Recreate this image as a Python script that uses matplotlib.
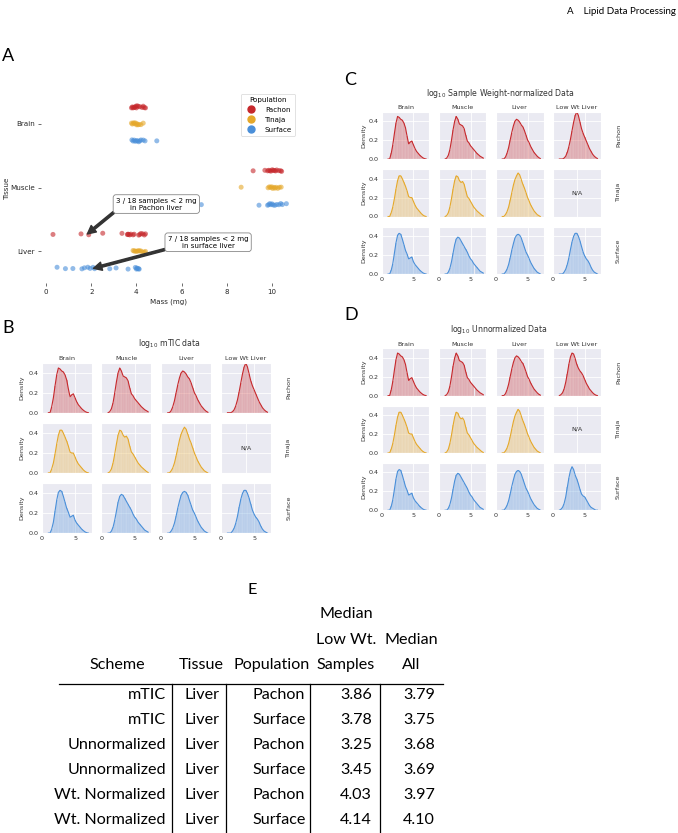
import numpy as np
import pandas as pd
import matplotlib
matplotlib.use("Agg")
import matplotlib.pyplot as plt
from matplotlib.lines import Line2D
from matplotlib import font_manager
import seaborn as sns

W, H = 678, 833

# ---- panel A: sample masses (mg) ----
tissues = ["Brain", "Muscle", "Liver"]
populations = ["Pachon", "Tinaja", "Surface"]
pop_colors = ["#c6282c", "#e5a82a", "#4a8fd9"]

brain_pachon = [3.78, 3.82, 3.85, 3.9, 3.93, 3.97, 4.0, 4.03, 4.08, 4.15, 4.25, 4.3, 4.35, 4.4]
brain_tinaja = [3.78, 3.82, 3.87, 3.9, 3.95, 4.0, 4.02, 4.07, 4.12, 4.2, 4.3]
brain_surface = [3.8, 3.85, 3.9, 3.95, 4.0, 4.05, 4.1, 4.15, 4.2, 4.3, 4.38, 4.9]
muscle_pachon = [9.16, 9.68, 9.8, 9.85, 9.9, 9.95, 10.0, 10.05, 10.1, 10.15, 10.2, 10.3, 10.38, 10.42]
muscle_tinaja = [8.63, 9.82, 9.88, 9.93, 9.98, 10.02, 10.08, 10.12, 10.18, 10.25, 10.32, 10.4]
muscle_surface = [6.87, 9.42, 9.8, 9.85, 9.9, 9.95, 10.0, 10.05, 10.12, 10.2, 10.3, 10.38, 10.45, 10.63]
liver_pachon = [0.31, 1.55, 1.89, 2.51, 3.36, 3.6, 3.62, 3.65, 3.7, 3.75, 3.85, 3.9, 4.1, 4.15, 4.2, 4.28, 4.35, 4.4]
liver_tinaja = [3.85, 3.9, 3.95, 4.0, 4.05, 4.1, 4.15, 4.2, 4.28, 4.35, 4.4]
liver_surface = [0.49, 0.86, 1.19, 1.59, 1.7, 1.85, 1.95, 2.08, 2.15, 2.82, 3.1, 3.63, 3.95, 4.0, 4.02, 4.05, 4.1, 4.12]

# ---- panels B-D: log10 intensity densities, bins of 0.25 from 1.0 to 7.0 ----
bins = np.arange(1.0, 7.01, 0.25)
col_titles = ["Brain", "Muscle", "Liver", "Low Wt Liver"]

brain_p = [0, 0, 0.06, 0.15, 0.27, 0.38, 0.45, 0.44, 0.42, 0.41, 0.38, 0.33, 0.24, 0.16, 0.18, 0.19, 0.15, 0.11, 0.08, 0.06, 0.04, 0.025, 0.012, 0.004, 0]
muscle_p = [0, 0.01, 0.04, 0.1, 0.2, 0.31, 0.4, 0.45, 0.42, 0.37, 0.36, 0.35, 0.32, 0.25, 0.19, 0.17, 0.14, 0.12, 0.1, 0.08, 0.06, 0.045, 0.03, 0.02, 0.01]
liver_p = [0, 0, 0.02, 0.06, 0.12, 0.2, 0.28, 0.35, 0.4, 0.42, 0.41, 0.39, 0.36, 0.34, 0.3, 0.25, 0.2, 0.17, 0.13, 0.1, 0.07, 0.05, 0.03, 0.015, 0.005]
lowwt_p = [0, 0, 0, 0.01, 0.03, 0.07, 0.13, 0.21, 0.3, 0.39, 0.46, 0.5, 0.46, 0.39, 0.32, 0.27, 0.23, 0.19, 0.15, 0.11, 0.08, 0.05, 0.03, 0.015, 0.005]
brain_t = [0, 0, 0.04, 0.1, 0.19, 0.29, 0.38, 0.43, 0.43, 0.4, 0.36, 0.32, 0.27, 0.21, 0.2, 0.2, 0.16, 0.12, 0.09, 0.07, 0.05, 0.03, 0.015, 0.005, 0]
muscle_t = [0, 0.01, 0.04, 0.1, 0.19, 0.29, 0.38, 0.43, 0.42, 0.38, 0.36, 0.37, 0.34, 0.27, 0.21, 0.19, 0.16, 0.13, 0.1, 0.08, 0.06, 0.045, 0.03, 0.015, 0.005]
liver_t = [0, 0, 0.02, 0.05, 0.1, 0.17, 0.25, 0.33, 0.39, 0.43, 0.46, 0.44, 0.39, 0.34, 0.3, 0.25, 0.2, 0.16, 0.12, 0.09, 0.06, 0.04, 0.02, 0.01, 0]
brain_s = [0, 0, 0.04, 0.11, 0.22, 0.33, 0.41, 0.43, 0.42, 0.37, 0.31, 0.25, 0.21, 0.16, 0.17, 0.18, 0.13, 0.1, 0.08, 0.06, 0.04, 0.025, 0.012, 0.004, 0]
muscle_s = [0, 0, 0.02, 0.06, 0.13, 0.22, 0.31, 0.37, 0.39, 0.38, 0.35, 0.32, 0.29, 0.26, 0.23, 0.19, 0.16, 0.14, 0.11, 0.09, 0.07, 0.05, 0.03, 0.02, 0.01]
liver_s = [0, 0, 0.02, 0.05, 0.1, 0.17, 0.25, 0.32, 0.38, 0.41, 0.42, 0.41, 0.38, 0.33, 0.28, 0.23, 0.2, 0.16, 0.12, 0.09, 0.06, 0.04, 0.02, 0.01, 0]
lowwt_s = [0, 0, 0, 0.02, 0.05, 0.1, 0.17, 0.26, 0.34, 0.4, 0.43, 0.43, 0.4, 0.35, 0.29, 0.23, 0.19, 0.16, 0.14, 0.11, 0.07, 0.04, 0.02, 0.01, 0]
# unnormalized low weight livers peak earlier
unnorm_lowwt_p = [0, 0.01, 0.03, 0.07, 0.14, 0.23, 0.33, 0.41, 0.45, 0.44, 0.39, 0.33, 0.29, 0.26, 0.24, 0.21, 0.17, 0.13, 0.1, 0.07, 0.05, 0.03, 0.015, 0.005, 0]
unnorm_lowwt_s = [0, 0.01, 0.03, 0.07, 0.14, 0.24, 0.34, 0.42, 0.46, 0.43, 0.37, 0.33, 0.28, 0.22, 0.17, 0.15, 0.14, 0.11, 0.08, 0.05, 0.03, 0.02, 0.01, 0, 0]

# ---- panel E table ----
tab_scheme = ["mTIC", "mTIC", "Unnormalized", "Unnormalized", "Wt. Normalized", "Wt. Normalized"]
tab_tissue = ["Liver"] * 6
tab_pop = ["Pachon", "Surface", "Pachon", "Surface", "Pachon", "Surface"]
tab_lowwt = [3.86, 3.78, 3.25, 3.45, 4.03, 4.14]
tab_all = [3.79, 3.75, 3.68, 3.69, 3.97, 4.10]


def px(x, y, w, h):
    return [x / W, 1 - (y + h) / H, w / W, h / H]


def ftext(x, y, s, **kw):
    fig.text(x / W, 1 - y / H, s, **kw)


# the table font in the original is a narrow humanist face
installed = {f.name for f in font_manager.fontManager.ttflist}
if "Liberation Sans Narrow" in installed:
    table_font, table_size = "Liberation Sans Narrow", 13
else:
    table_font, table_size = "Lato", 11.6

fig = plt.figure(figsize=(W / 100, H / 100), dpi=100)
plt.rcParams["font.family"] = ["DejaVu Sans"]
LETTER = dict(family="Lato", fontsize=13, va="center", ha="left")

ftext(676, 12, "A    Lipid Data Processing", family="Lato", fontsize=7, ha="right", va="center")

# ---------------- A ----------------
rows = []
for tis, pop, vals in [("Brain", "Pachon", brain_pachon), ("Brain", "Tinaja", brain_tinaja),
                       ("Brain", "Surface", brain_surface), ("Muscle", "Pachon", muscle_pachon),
                       ("Muscle", "Tinaja", muscle_tinaja), ("Muscle", "Surface", muscle_surface),
                       ("Liver", "Pachon", liver_pachon), ("Liver", "Tinaja", liver_tinaja),
                       ("Liver", "Surface", liver_surface)]:
    for v in vals:
        rows.append((tis, pop, v))
df = pd.DataFrame(rows, columns=["Tissue", "Population", "Mass (mg)"])

with sns.axes_style("ticks"):
    axA = fig.add_axes(px(41, 92, 256, 191))
np.random.seed(4)
sns.stripplot(data=df, x="Mass (mg)", y="Tissue", hue="Population", order=tissues,
              hue_order=populations, palette=pop_colors, dodge=True, jitter=0.05,
              size=3.6, alpha=0.6, linewidth=0, ax=axA, legend=False)
axA.set_xlim(-0.22, 11.1)
axA.set_ylim(2.5, -0.5)
sns.despine(ax=axA, left=True, bottom=True)
axA.tick_params(length=2.5, width=0.6, labelsize=5.1, pad=2, color="#555555", labelcolor="#262626")
axA.set_xticks([0, 2, 4, 6, 8, 10])
axA.set_xlabel("Mass (mg)", fontsize=5.1, labelpad=2, color="#262626")
axA.set_ylabel("Tissue", fontsize=5.1, color="#262626")
axA.yaxis.set_label_coords(-0.123, 0.5)
handles = [Line2D([], [], marker="o", ls="", color=c, markersize=5) for c in pop_colors]
leg = axA.legend(handles, populations, title="Population", loc="upper right", fontsize=5.1,
                 title_fontsize=5.1, frameon=True, borderaxespad=0.25, handletextpad=0.9,
                 labelspacing=0.55, borderpad=0.45)
leg.get_frame().set_linewidth(0.5)
box = dict(boxstyle="round,pad=0.4", fc="white", ec="#888888", lw=0.6)
arrow = dict(facecolor="#333333", edgecolor="#333333", width=1.6, headwidth=6, headlength=6, shrink=0.0)
axA.annotate("3 / 18 samples < 2 mg\nin Pachon liver", xy=(1.83, 1.73), xytext=(4.88, 1.26),
             ha="center", va="center", fontsize=5.1, bbox=box, arrowprops=arrow)
axA.annotate("7 / 18 samples < 2 mg\nin surface liver", xy=(2.1, 2.27), xytext=(7.17, 1.86),
             ha="center", va="center", fontsize=5.1, bbox=box, arrowprops=arrow)
ftext(2, 56, "A", **LETTER)


# ---------------- B, C, D grids ----------------
def draw_grid(left, top, w, h, dx, dy, title, title_x, title_y, ylab_x, profiles):
    for r, pop in enumerate(populations):
        for c, tis in enumerate(col_titles):
            with sns.axes_style("darkgrid"):
                ax = fig.add_axes(px(left + c * dx, top + r * dy, w, h))
            ax.grid(color="white", lw=0.6)
            ax.tick_params(length=0, labelsize=4.6, pad=2, labelcolor="#333333")
            ax.set_ylim(0, 0.5)
            ax.set_yticks([0.0, 0.2, 0.4])
            dens = profiles[r][c]
            if dens is None:
                ax.set_xlim(0, 1)
                ax.set_xticks([0.5])
                ax.text(0.5, 0.25, "N/A", ha="center", va="center", fontsize=4.6, color="#333333")
            else:
                ax.set_xlim(0, 7.5)
                ax.set_xticks([0, 5])
                ax.bar(bins, dens, width=0.25, color=pop_colors[r], alpha=0.33,
                       edgecolor="white", linewidth=0.25)
                ax.plot(bins, dens, color=pop_colors[r], lw=0.8)
            if c == 0:
                ax.set_yticklabels(["0.0", "0.2", "0.4"])
            else:
                ax.set_yticklabels([])
            if r == 2:
                ax.set_xticklabels(["0", "5"])
            else:
                ax.set_xticklabels([])
            if r == 0:
                ax.set_title(tis, fontsize=4.6, pad=2, color="#333333")
            if c == 3:
                ax.text(1.0 + 18 / w, 0.5, pop, transform=ax.transAxes, rotation=90,
                        ha="center", va="center", fontsize=4.6, color="#333333")
        ftext(ylab_x, top + r * dy + h / 2, "Density", rotation=90, ha="center", va="center",
              fontsize=4.6, color="#333333")
    ftext(title_x, title_y, title, ha="center", va="center", fontsize=5.6, color="#333333")


mtic = [[brain_p, muscle_p, liver_p, lowwt_p],
        [brain_t, muscle_t, liver_t, None],
        [brain_s, muscle_s, liver_s, lowwt_s]]
unnorm = [[brain_p, muscle_p, liver_p, unnorm_lowwt_p],
          [brain_t, muscle_t, liver_t, None],
          [brain_s, muscle_s, liver_s, unnorm_lowwt_s]]

draw_grid(41.7, 363, 50, 49.7, 59.7, 60.2, r"log$_{10}$ mTIC data", 169, 344, 22, mtic)
ftext(2, 328, "B", **LETTER)
draw_grid(381.7, 111.7, 47.6, 47.3, 57.1, 57.5, r"log$_{10}$ Sample Weight-normalized Data",
          500, 94, 364, mtic)
ftext(344, 80, "C", **LETTER)
draw_grid(381.7, 348.3, 47.6, 47.3, 57.1, 57.3, r"log$_{10}$ Unnormalized Data", 499, 330, 364, unnorm)
ftext(344, 315, "D", **LETTER)

# ---------------- E table ----------------
TF = dict(family=table_font, fontsize=table_size, va="center", color="black")
ftext(252, 590, "E", ha="center", **TF)
ftext(346, 614, "Median", ha="center", **TF)
ftext(346, 640, "Low Wt.", ha="center", **TF)
ftext(411, 640, "Median", ha="center", **TF)
for x, s in [(117, "Scheme"), (201, "Tissue"), (272, "Population"), (346, "Samples"), (411, "All")]:
    ftext(x, 665, s, ha="center", **TF)
fig.add_artist(Line2D([59 / W, 443 / W], [1 - 684 / H, 1 - 684 / H], color="black", lw=0.9))
for x in [172, 226, 310, 380]:
    fig.add_artist(Line2D([x / W, x / W], [1 - 684 / H, 0], color="black", lw=0.9))
for i in range(len(tab_scheme)):
    y = 695 + 25 * i
    ftext(166, y, tab_scheme[i], ha="right", **TF)
    ftext(202, y, tab_tissue[i], ha="center", **TF)
    ftext(279, y, tab_pop[i], ha="center", **TF)
    ftext(372, y, "%.2f" % tab_lowwt[i], ha="right", **TF)
    ftext(435, y, "%.2f" % tab_all[i], ha="right", **TF)

fig.savefig("out.png", dpi=100)
